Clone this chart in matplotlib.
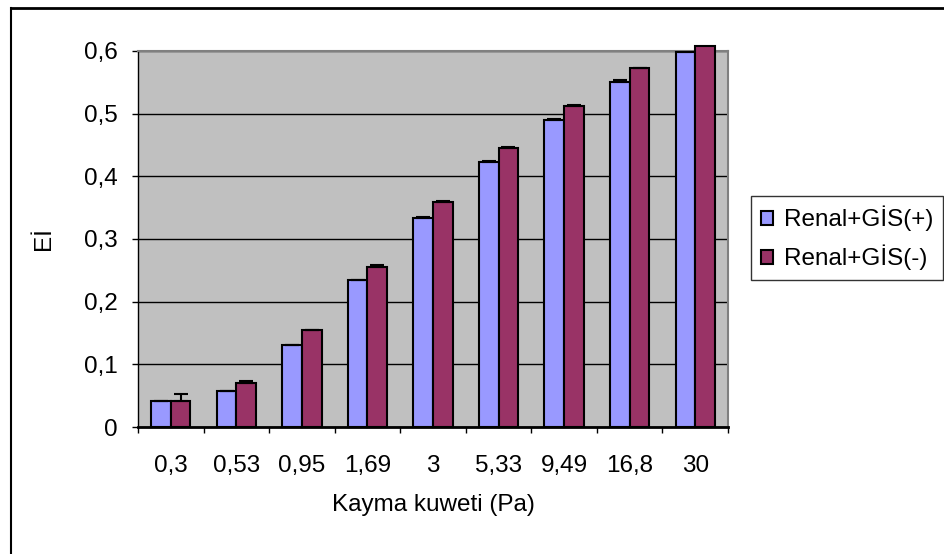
import matplotlib
matplotlib.use("Agg")
import matplotlib.pyplot as plt
import numpy as np
from matplotlib.lines import Line2D

plt.rcParams['font.family'] = ['Liberation Sans', 'DejaVu Sans']

categories = ["0,3", "0,53", "0,95", "1,69", "3", "5,33", "9,49", "16,8", "30"]
gis_plus = [0.041, 0.058, 0.131, 0.234, 0.333, 0.423, 0.490, 0.551, 0.599]
gis_minus = [0.041, 0.071, 0.155, 0.256, 0.359, 0.445, 0.512, 0.573, 0.608]
err_plus = [0, 0, 0, 0, 0.002, 0.002, 0.002, 0.002, 0.002]
err_minus = [0.011, 0.002, 0, 0.002, 0.002, 0.002, 0.002, 0, 0]
yticks = [0, 0.1, 0.2, 0.3, 0.4, 0.5, 0.6]
ytick_labels = ["0", "0,1", "0,2", "0,3", "0,4", "0,5", "0,6"]

W, H = 944, 554
FS = 17.5
fig = plt.figure(figsize=(W / 100, H / 100), dpi=100)
ax = fig.add_axes([138 / W, (H - 427) / H, (728 - 138) / W, (427 - 51) / H])
ax.set_facecolor("#C0C0C0")

x = np.arange(len(categories))
bw = 0.3
blue = "#9999FF"
red = "#993366"
ax.bar(x - bw / 2, gis_plus, bw, color=blue, edgecolor="black", linewidth=1.5,
       label="Renal+GİS(+)", zorder=3, clip_on=False)
ax.bar(x + bw / 2, gis_minus, bw, color=red, edgecolor="black", linewidth=1.5,
       label="Renal+GİS(-)", zorder=3, clip_on=False)

ep = np.array(err_plus)
em = np.array(err_minus)
ax.errorbar(x - bw / 2, gis_plus, yerr=[np.zeros_like(ep), ep], fmt="none",
            ecolor="black", elinewidth=1.5, capsize=5, capthick=1.5, zorder=4)
ax.errorbar(x + bw / 2, gis_minus, yerr=[np.zeros_like(em), em], fmt="none",
            ecolor="black", elinewidth=1.5, capsize=5, capthick=1.5, zorder=4)

ax.set_xlim(-0.5, len(categories) - 0.5)
ax.set_ylim(0, 0.6)
ax.set_yticks(yticks)
ax.set_yticklabels(ytick_labels)
ax.yaxis.grid(True, color="black", linewidth=1, zorder=1)
ax.set_axisbelow(True)

ax.set_xticks(x)
ax.set_xticklabels(categories)
ax.set_xticks(np.arange(len(categories) + 1) - 0.5, minor=True)
ax.tick_params(axis="x", which="major", length=0, pad=20.5, labelsize=FS)
ax.tick_params(axis="x", which="minor", length=4.5, width=1, direction="out")
ax.tick_params(axis="y", length=4.5, width=1, direction="out", pad=10, labelsize=FS)

for s in ["top", "right"]:
    ax.spines[s].set_color("#808080")
    ax.spines[s].set_linewidth(1.5)
ax.spines["left"].set_color("black")
ax.spines["bottom"].set_color("black")
ax.spines["left"].set_linewidth(1)
ax.spines["bottom"].set_linewidth(2)

ax.set_xlabel("Kayma kuweti (Pa)", fontsize=FS, labelpad=12)
ax.set_ylabel("Eİ", fontsize=FS, labelpad=21)

leg = ax.legend(loc="lower left", bbox_to_anchor=(751 / W, (H - 280) / H),
                bbox_transform=fig.transFigure, frameon=True, fancybox=False,
                edgecolor="black", fontsize=17.5, handlelength=0.5, handleheight=0.5,
                handletextpad=0.45, labelspacing=0.55, borderpad=0.4,
                borderaxespad=0)
leg.get_frame().set_linewidth(1)

# outer chart frame (top and left visible)
fig.add_artist(Line2D([11 / W, 1.0], [1 - 8 / H, 1 - 8 / H], color="black", linewidth=2,
                      transform=fig.transFigure))
fig.add_artist(Line2D([11 / W, 11 / W], [0, 1 - 8 / H], color="black", linewidth=1.5,
                      transform=fig.transFigure))

fig.savefig("out.png", dpi=100)
